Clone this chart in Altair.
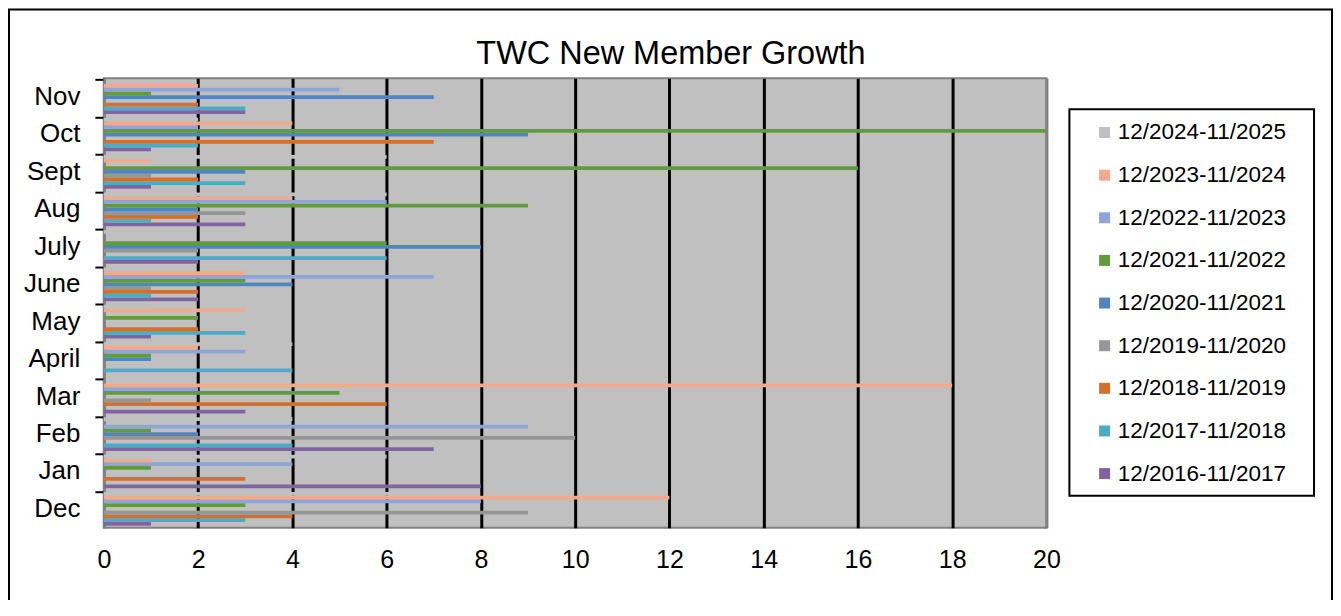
import altair as alt
import pandas as pd

months = ["Dec", "Jan", "Feb", "Mar", "April", "May", "June", "July", "Aug", "Sept", "Oct", "Nov"]
periods = [
    "12/2016-11/2017", "12/2017-11/2018", "12/2018-11/2019", "12/2019-11/2020",
    "12/2020-11/2021", "12/2021-11/2022", "12/2022-11/2023", "12/2023-11/2024",
    "12/2024-11/2025",
]
colors = ["#8064A2", "#4BACC6", "#D4702B", "#969696", "#4F86BE", "#629B3C",
          "#91A4D7", "#F2A98C", "#C0C0C0"]

# values per period, in month order Dec..Nov
v2016 = [1, 8, 7, 3, 0, 1, 2, 2, 3, 1, 1, 3]
v2017 = [3, 0, 4, 0, 4, 3, 1, 6, 1, 3, 2, 3]
v2018 = [4, 3, 0, 6, 0, 2, 2, 0, 2, 2, 7, 2]
v2019 = [9, 0, 10, 1, 0, 0, 1, 2, 3, 1, 0, 0]
v2020 = [0, 0, 2, 0, 1, 0, 4, 8, 2, 3, 9, 7]
v2021 = [3, 1, 1, 5, 1, 2, 3, 6, 9, 16, 20, 1]
v2022 = [8, 4, 9, 2, 3, 0, 7, 0, 6, 0, 2, 5]
v2023 = [12, 1, 0, 18, 2, 3, 3, 0, 4, 1, 4, 2]
v2024 = [7, 6, 4, 0, 4, 1, 1, 1, 6, 6, 2, 0]

title_text = "TWC New Member Growth"

all_vals = [v2016, v2017, v2018, v2019, v2020, v2021, v2022, v2023, v2024]
rows = []
for p, vals in zip(periods, all_vals):
    for m, v in zip(months, vals):
        rows.append({"month": m, "period": p, "count": v})
df = pd.DataFrame(rows)

FONT = "Liberation Sans"
W, H = 944, 450

bars = alt.Chart(df).mark_bar().encode(
    y=alt.Y(
        "month:N",
        sort=months[::-1],
        scale=alt.Scale(paddingInner=0.1, paddingOuter=0.05),
        axis=alt.Axis(
            title=None, bandPosition=0,
            ticks=True, tickSize=9, tickWidth=2, tickColor="black",
            labelFontSize=26, labelFont=FONT, labelColor="black",
            labelPadding=15, domainColor="#808080", domainWidth=2, grid=False,
        ),
    ),
    yOffset=alt.YOffset("period:N", sort=periods[::-1],
                        scale=alt.Scale(paddingInner=0, paddingOuter=0)),
    x=alt.X(
        "count:Q",
        scale=alt.Scale(domain=[0, 20], nice=False),
        axis=alt.Axis(
            values=list(range(0, 21, 2)), title=None, ticks=False, grid=True,
            gridColor=alt.condition("datum.value == 0 || datum.value == 20",
                                    alt.value("#808080"), alt.value("black")),
            gridWidth=3, labelFontSize=25, labelFont=FONT, labelColor="black",
            labelPadding=20, labelFlush=False, domain=False,
        ),
    ),
    color=alt.Color(
        "period:N",
        scale=alt.Scale(domain=periods[::-1], range=colors[::-1]),
        sort=periods[::-1],
        legend=alt.Legend(
            title=None, orient="none", legendX=991, legendY=43, padding=0,
            symbolType="square", symbolSize=121, symbolStrokeWidth=0,
            labelFontSize=22.5, labelFont=FONT, labelColor="black",
            labelOffset=2, rowPadding=19.7, labelLimit=400,
        ),
    ),
)

frame_df = pd.DataFrame({"t": [title_text]})
title_mark = alt.Chart(frame_df).mark_text(
    fontSize=32.5, font=FONT, color="black", align="center", baseline="alphabetic"
).encode(text="t:N", x=alt.value(568), y=alt.value(-14))
legend_box = alt.Chart(frame_df).mark_rect(filled=False, stroke="black", strokeWidth=2).encode(
    x=alt.value(967), x2=alt.value(1212), y=alt.value(31), y2=alt.value(418)
)
outer_box = alt.Chart(frame_df).mark_rect(filled=False, stroke="black", strokeWidth=2).encode(
    x=alt.value(-95), x2=alt.value(1230), y=alt.value(-69), y2=alt.value(529)
)

chart = alt.layer(bars, title_mark, legend_box, outer_box).properties(
    width=W, height=H,
    autosize=alt.AutoSizeParams(type="none"),
    padding={"left": 96, "top": 70, "right": 287, "bottom": 72},
    background="white",
).configure_view(stroke="#808080", strokeWidth=2, fill="#C0C0C0")

chart.save("out.html", embed_options={"renderer": "svg", "actions": False})
